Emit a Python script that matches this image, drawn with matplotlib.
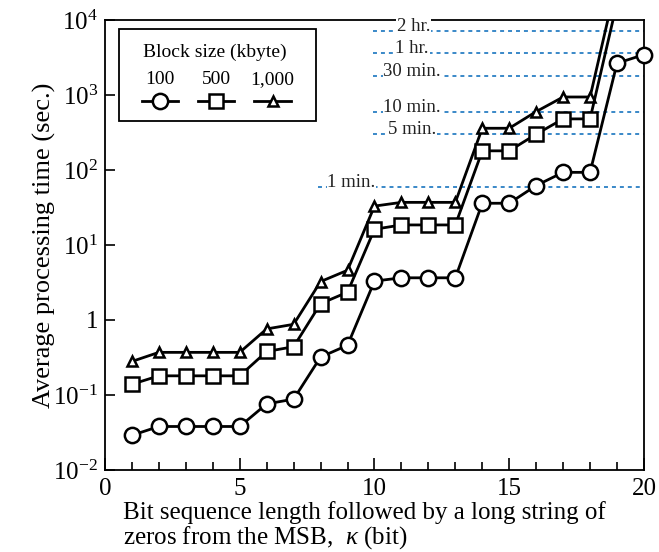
import matplotlib
matplotlib.use("Agg")
import matplotlib.pyplot as plt
from matplotlib.patches import Rectangle
from matplotlib.lines import Line2D
from matplotlib.ticker import FixedLocator, FixedFormatter, MultipleLocator

plt.rcParams["font.family"] = ["Liberation Serif", "DejaVu Serif"]
plt.rcParams["mathtext.fontset"] = "custom"
plt.rcParams["mathtext.rm"] = "Liberation Serif"
plt.rcParams["mathtext.it"] = "Liberation Serif:italic"

# processing time (sec.) per block size
kappa = list(range(1, 21))
t_100 = [0.029, 0.038, 0.038, 0.038, 0.038, 0.076, 0.088, 0.32, 0.46, 3.3,
         3.65, 3.65, 3.65, 36, 36, 62, 93, 93, 2650, 3450]
t_500 = [0.139, 0.18, 0.18, 0.18, 0.18, 0.38, 0.44, 1.65, 2.35, 16.2,
         18.5, 18.5, 18.5, 180, 180, 300, 480, 480, 17000]
t_1000 = [0.28, 0.37, 0.37, 0.37, 0.37, 0.76, 0.875, 3.25, 4.6, 33,
          37, 37, 37, 360, 360, 600, 940, 940, 34000]

# reference times
ref_secs = [60, 300, 600, 1800, 3600, 7200]
ref_labels = ["1 min.", "5 min.", "10 min.", "30 min.", "1 hr.", "2 hr."]
ref_start = [7.9, 9.95, 9.95, 9.95, 9.95, 9.95]
ref_text_x = [9.15, 11.4, 11.4, 11.4, 11.4, 11.45]

yticks = [1e-2, 1e-1, 1, 1e1, 1e2, 1e3, 1e4]
ytick_labels = ["10$^{-2}$", "10$^{-1}$", "1", "10$^{1}$", "10$^{2}$",
                "10$^{3}$", "10$^{4}$"]

fig = plt.figure(figsize=(6.59, 5.52), dpi=100)
ax = fig.add_axes([0.1593, 0.1486, 0.8179, 0.8152])

blue = "#2a7fc4"
for s, lab, x0, tx in zip(ref_secs, ref_labels, ref_start, ref_text_x):
    ax.hlines(s, x0, 20, colors=blue, linestyles=(0, (2.2, 2.2)), lw=1.3, zorder=1)
    ax.text(tx, s, lab, ha="center", va="baseline", fontsize=13.5,
            color="#222222", zorder=4,
            bbox=dict(facecolor="white", edgecolor="none", pad=0.5))

style = dict(color="black", lw=2.0, mfc="white", mec="black", mew=1.8)
ax.plot(kappa[:len(t_1000)], t_1000, marker="^", ms=7.5, zorder=3, **style)
ax.plot(kappa[:len(t_500)], t_500, marker="s", ms=9.5, zorder=3, **style)
ax.plot(kappa, t_100, marker="o", ms=11, zorder=3, clip_on=False, **style)

ax.set_yscale("log")
ax.set_xlim(0, 20)
ax.set_ylim(1e-2, 1e4)
ax.yaxis.set_major_locator(FixedLocator(yticks))
ax.yaxis.set_major_formatter(FixedFormatter(ytick_labels))
ax.yaxis.set_minor_locator(FixedLocator([]))
ax.xaxis.set_major_locator(MultipleLocator(5))
ax.xaxis.set_minor_locator(MultipleLocator(1))
ax.tick_params(axis="both", which="major", direction="in", labelsize=18,
               width=1.2)
ax.tick_params(axis="y", which="major", length=7, pad=5)
ax.tick_params(axis="x", which="major", length=9, pad=6)
ax.tick_params(axis="x", which="minor", direction="in", length=5.5, width=1.2)
for sp in ax.spines.values():
    sp.set_linewidth(1.3)

ax.set_ylabel("Average processing time (sec.)", fontsize=19, labelpad=-2)
fig.text(0.187, 0.060, "Bit sequence length followed by a long string of",
         ha="left", va="baseline", fontsize=18)
fig.text(0.187, 0.016, r"zeros from the MSB,  $\kappa$ (bit)",
         ha="left", va="baseline", fontsize=18)

# legend box drawn by hand: labels sit above the handles
ax.add_patch(Rectangle((0.0265, 0.776), 0.3645, 0.204, transform=ax.transAxes,
                       fill=False, lw=1.3, zorder=5))
ax.text(0.203, 0.927, "Block size (kbyte)", transform=ax.transAxes,
        ha="center", va="center", fontsize=14, zorder=5)
leg_items = [("100", "o", 11), ("500", "s", 9.5), ("1,000", "^", 7.5)]
leg_x = [0.102, 0.206, 0.311]
for (lab, mk, ms), cx in zip(leg_items, leg_x):
    ax.text(cx, 0.867, lab, transform=ax.transAxes, ha="center",
            va="center", fontsize=14, zorder=5)
    ax.add_line(Line2D([cx - 0.034, cx + 0.034], [0.82, 0.82],
                       transform=ax.transAxes, zorder=5, color="black", lw=2.0))
    ax.add_line(Line2D([cx], [0.82], transform=ax.transAxes, zorder=6,
                       marker=mk, ms=ms, mfc="white", mec="black", mew=1.8,
                       ls="none"))

fig.savefig("out.png", dpi=100)
